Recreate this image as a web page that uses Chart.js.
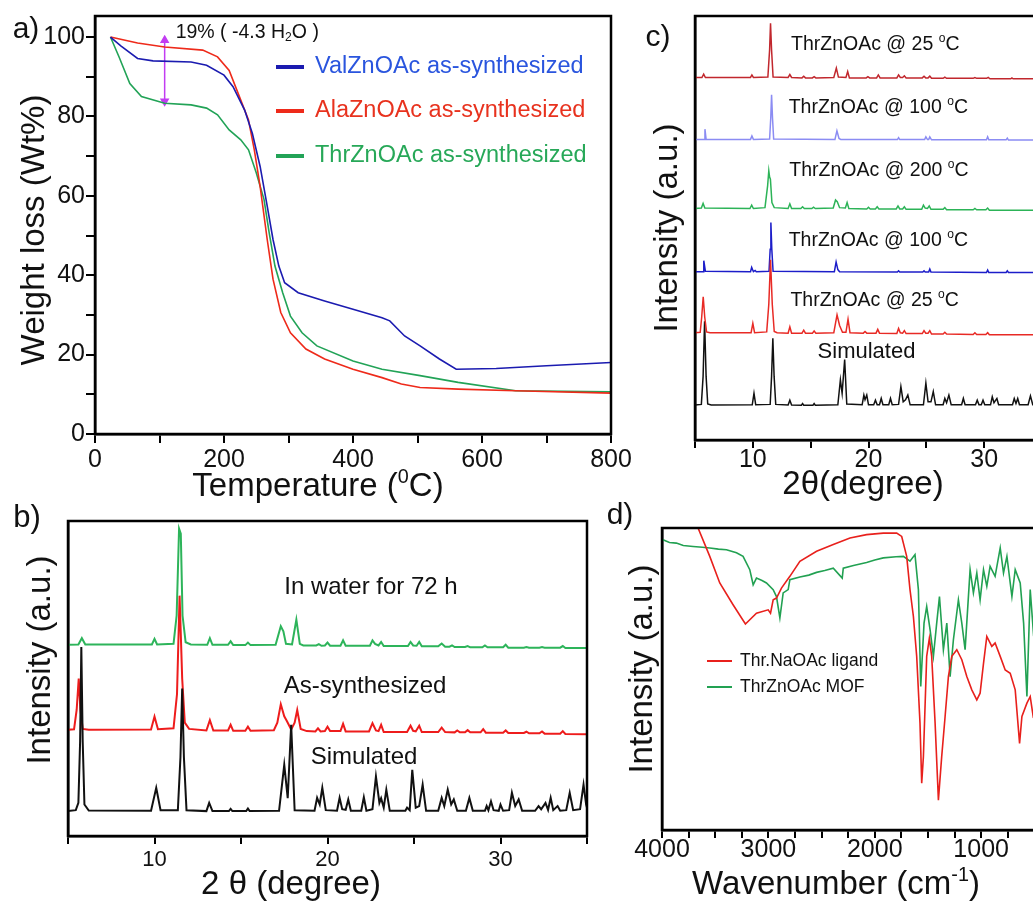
<!DOCTYPE html>
<html>
<head>
<meta charset="utf-8">
<script src="https://cdn.jsdelivr.net/npm/chart.js@4.4.1/dist/chart.umd.min.js"></script>
<style>
  html, body { margin: 0; padding: 0; width: 1033px; height: 902px; overflow: hidden; background: #fff; }
  body { position: relative; font-family: 'Liberation Sans', Arial, sans-serif; color: #111; }
  .panel { position: absolute; }
  .txt { position: absolute; transform: translate(-50%, -50%); white-space: nowrap; line-height: 1; }
  .rot { transform: translate(-50%, -50%) rotate(-90deg); }
  sup { font-size: 0.6em; vertical-align: 0.65em; line-height: 0; }
</style>
</head>
<body>
<div class="panel" style="left:0;top:0;width:639px;height:470px"><canvas id="chartA"></canvas></div>
<div class="panel" style="left:0;top:500px;width:600px;height:402px"><canvas id="chartB"></canvas></div>
<div class="panel" style="left:640px;top:0;width:420px;height:470px"><canvas id="chartC"></canvas></div>
<div class="panel" style="left:620px;top:500px;width:440px;height:402px"><canvas id="chartD"></canvas></div>

<!-- panel letters and axis titles -->
<div class="txt" style="left:26px;top:28px;font-size:30px">a)</div>
<div class="txt" style="left:27px;top:516px;font-size:31px">b)</div>
<div class="txt" style="left:658px;top:36px;font-size:30px">c)</div>
<div class="txt" style="left:620px;top:514px;font-size:30px">d)</div>

<div class="txt rot" style="left:32px;top:230px;font-size:33px">Weight loss (Wt%)</div>
<div class="txt" style="left:318px;top:484px;font-size:33px">Temperature (<sup>0</sup>C)</div>
<div class="txt rot" style="left:38px;top:660px;font-size:33px">Intensity (a.u.)</div>
<div class="txt" style="left:291px;top:882px;font-size:33px">2 θ (degree)</div>
<div class="txt rot" style="left:665px;top:228px;font-size:33px">Intensity (a.u.)</div>
<div class="txt" style="left:863px;top:482px;font-size:33px">2θ(degree)</div>
<div class="txt rot" style="left:640px;top:669px;font-size:33px">Intensity (a.u.)</div>
<div class="txt" style="left:836px;top:882px;font-size:33px">Wavenumber (cm<sup>-1</sup>)</div>

<script>
// ---- a) TGA, [temperature, weight %]
const tgaNames = ['ValZnOAc as-synthesized', 'AlaZnOAc as-synthesized', 'ThrZnOAc as-synthesized'];
const tgaVal = [[24,100],[40,97.8],[66,94.6],[90,94],[149,93.7],[173,92.9],[200,90.4],[214,87.5],[232,81.6],[244,75.7],[256,67.4],[267,57.4],[276,49],[285,42.3],[294,38.1],[315,35.6],[356,33.5],[400,31.4],[445,29.3],[457,28.5],[480,24.7],[504,22.2],[534,18.9],[560,16.3],[622,16.5],[700,17.2],[800,18]];
const tgaAla = [[24,100],[66,98.5],[108,97.5],[167,96.7],[190,95],[208,91.6],[226,84.1],[238,79.1],[247,71.6],[256,62.4],[267,49],[276,39],[288,30.6],[303,25.5],[327,21.4],[356,18.9],[400,16.3],[445,14.2],[475,12.6],[504,11.7],[563,11.3],[652,10.9],[800,10.3]];
const tgaThr = [[24,100],[37,95.1],[54,88.3],[72,85],[108,83.3],[149,82.9],[173,82.1],[190,80.4],[208,76.6],[226,74.1],[238,71.6],[250,65.8],[262,59.1],[270,50.7],[279,42.3],[291,35.6],[303,29.7],[321,25.5],[344,22.2],[400,18.4],[445,16.3],[504,14.7],[563,13],[652,10.9],[800,10.6]];
const waterLoss = [[108, 99.2], [108, 83.8]];
const tempTicks = [0, 200, 400, 600, 800];
const weightTicks = [0, 20, 40, 60, 80, 100];

// ---- b) PXRD, [2theta, intensity]
const pxrdNames = ['In water for 72 h', 'As-synthesized', 'Simulated'];
const pxrdWater = [[5,60.7],[5.6,60.8],[5.8,62.8],[6,60.8],[9.85,60.8],[10,62.6],[10.15,60.8],[11.1,61],[11.28,70],[11.42,97.6],[11.52,96],[11.62,70],[11.8,61.5],[12.1,60.8],[13.05,60.7],[13.2,62.8],[13.35,60.7],[14.25,60.7],[14.4,61.8],[14.55,60.6],[15.25,60.6],[15.4,61.4],[15.55,60.6],[17,60.7],[17.3,66.6],[17.45,65],[17.6,61],[17.95,60.8],[18.2,68.7],[18.4,61],[18.6,60.5],[19.35,60.5],[19.5,60.9],[19.65,60.4],[19.85,60.5],[20,61.4],[20.15,60.4],[20.75,60.4],[20.9,62.1],[21.05,60.4],[22.45,60.4],[22.6,62.1],[22.75,61],[22.95,60.5],[23.1,61.6],[23.25,60.3],[24.65,60.3],[24.8,61.6],[24.95,60.5],[25.15,60.4],[25.3,61.6],[25.45,60.2],[26.4,60.2],[26.6,61.1],[26.8,60.1],[27.05,60.1],[27.2,60.5],[27.35,60],[27.95,60],[28.1,60.3],[28.25,59.9],[28.95,59.9],[29.1,60.5],[29.25,59.9],[30.15,59.9],[30.3,60.7],[30.45,59.8],[31.35,59.8],[31.5,60],[31.65,59.8],[32.25,59.8],[32.4,60],[32.55,59.8],[33.45,59.8],[33.6,60.3],[33.75,59.7],[35,59.7]];
const pxrdAsSynth = [[5,33.7],[5.35,33.9],[5.5,40],[5.62,50],[5.72,40],[5.85,34],[6.2,33.7],[9.8,33.8],[10,37.9],[10.2,33.9],[11.1,34.2],[11.3,45],[11.45,76.3],[11.6,50],[11.75,36],[12,34],[13,33.5],[13.2,36.8],[13.4,33.5],[14.25,33.5],[14.4,35.3],[14.55,33.4],[15.25,33.4],[15.4,34.7],[15.55,33.4],[16.9,33.6],[17.1,36],[17.3,41.8],[17.5,38],[17.65,36.5],[17.9,33.8],[18.1,36],[18.25,40],[18.45,34],[18.8,33.3],[19.3,33.2],[19.45,34.2],[19.6,33.2],[19.85,33.3],[20,34.7],[20.15,33.3],[20.75,33.3],[20.9,35.6],[21.05,33.2],[22.4,33.2],[22.6,35.8],[22.8,33.5],[22.95,33.3],[23.1,35.3],[23.25,33],[24.6,33],[24.8,35],[24.95,33.4],[25.1,33.2],[25.3,35],[25.45,33],[26.4,33],[26.6,34.4],[26.8,33],[27.35,32.9],[27.5,33.5],[27.65,32.9],[27.95,32.9],[28.1,33.6],[28.25,32.9],[28.85,32.9],[29,33.9],[29.15,32.8],[30.15,32.8],[30.3,33.5],[30.45,32.7],[31.35,32.7],[31.5,33.1],[31.65,32.6],[32.25,32.6],[32.4,33.2],[32.55,32.5],[33.45,32.5],[33.6,33.3],[33.75,32.4],[35,32.3]];
const pxrdSim = [[5,7.9],[5.45,8.2],[5.6,10.5],[5.7,30],[5.77,60],[5.85,30],[5.95,10],[6.2,8.1],[9.8,8],[10.1,15.3],[10.35,8.2],[11.35,8.2],[11.5,25],[11.6,46.8],[11.7,25],[11.85,8.2],[13,7.9],[13.16,10.5],[13.35,7.9],[14.3,7.9],[14.4,8.6],[14.5,7.9],[15.3,7.9],[15.4,8.7],[15.5,7.9],[17.2,8],[17.5,22.6],[17.7,12],[17.9,35.3],[18.1,8.2],[19.25,8],[19.4,12.1],[19.55,10],[19.7,15.3],[19.9,8.2],[20.55,8],[20.7,12.1],[20.85,8.5],[21.05,8.3],[21.2,11.6],[21.35,8],[21.95,8],[22.1,12.3],[22.25,8],[22.6,8.5],[22.8,18.9],[23,10.5],[23.1,12],[23.25,9],[23.4,14.7],[23.6,8],[24.5,8],[24.6,9],[24.75,8.2],[24.9,21],[25.1,9],[25.3,9.5],[25.5,16.3],[25.7,8],[26.4,8],[26.6,12.1],[26.75,9.5],[26.95,14.7],[27.15,10],[27.3,11.6],[27.5,8],[28,8],[28.2,12.1],[28.4,8],[29.1,8],[29.2,9.5],[29.3,8.2],[29.45,11],[29.6,8.2],[29.9,8],[30,10],[30.15,8],[30.5,8.2],[30.66,13.7],[30.85,9.5],[31.05,11.6],[31.25,8],[32,8],[32.2,9.5],[32.35,8.5],[32.6,10.5],[32.75,8.3],[32.9,12.1],[33.05,8.2],[33.3,9.5],[33.45,8],[33.8,8.2],[34,13.7],[34.2,8.2],[34.6,8.5],[34.8,16.3],[34.95,10],[35,9]];
const thetaTicks = [10, 20, 30];

// ---- c) variable temperature PXRD, top trace first
const vtNames = ['ThrZnOAc @ 25 ^{o}C', 'ThrZnOAc @ 100 ^{o}C', 'ThrZnOAc @ 200 ^{o}C', 'ThrZnOAc @ 100 ^{o}C', 'ThrZnOAc @ 25 ^{o}C', 'Simulated'];
const vt25After = [[5,85.5],[5.6,85.5],[5.75,86.3],[5.9,85.5],[9.8,85.5],[9.92,86.1],[10.05,85.5],[11.3,85.6],[11.45,92],[11.53,98.3],[11.62,92],[11.75,85.6],[13.05,85.5],[13.2,86.2],[13.35,85.5],[14.25,85.4],[14.4,85.8],[14.55,85.4],[15.15,85.4],[15.3,85.7],[15.45,85.4],[17,85.5],[17.22,87.7],[17.4,85.6],[18.05,85.5],[18.2,86.9],[18.35,85.4],[19.8,85.4],[19.95,85.7],[20.1,85.4],[20.7,85.4],[20.85,86.1],[21,85.4],[22.45,85.4],[22.6,86.1],[22.75,85.5],[22.95,85.5],[23.1,85.9],[23.25,85.4],[24.65,85.4],[24.8,85.8],[24.95,85.4],[25.15,85.4],[25.3,85.8],[25.45,85.3],[26.45,85.3],[26.6,85.6],[26.75,85.3],[29.05,85.3],[29.2,85.5],[29.35,85.3],[30.2,85.3],[30.35,85.5],[30.5,85.2],[32.3,85.2],[32.4,85.4],[32.5,85.2],[35,85.2]];
const vt100Cool = [[5,70.9],[5.8,70.9],[5.86,73.3],[5.96,70.9],[9.8,70.9],[9.92,71.7],[10.05,70.9],[11.45,71],[11.55,76],[11.62,81.4],[11.7,76],[11.8,71],[17.1,70.9],[17.27,72.9],[17.45,71.1],[17.6,70.9],[22.5,70.85],[22.6,71.3],[22.7,70.85],[24.85,70.85],[24.96,71.5],[25.1,70.85],[25.2,70.85],[25.3,71.5],[25.45,70.8],[30.2,70.8],[30.3,71.5],[30.4,70.8],[31.9,70.8],[32,71.2],[32.1,70.75],[35,70.75]];
const vt200 = [[5,54.6],[5.55,54.7],[5.7,55.8],[5.85,54.7],[9.75,54.6],[9.9,55.4],[10.05,54.6],[11.05,54.8],[11.28,60],[11.38,63.5],[11.45,62],[11.52,61.5],[11.65,56],[11.85,54.8],[13.05,54.6],[13.2,55.7],[13.35,54.6],[14.15,54.6],[14.3,55],[14.45,54.6],[15.1,54.6],[15.25,54.9],[15.4,54.6],[16.95,54.7],[17.15,56.6],[17.3,56.2],[17.5,54.8],[18,54.7],[18.15,56],[18.3,54.6],[19.85,54.5],[20,54.9],[20.15,54.5],[20.6,54.5],[20.75,55],[20.9,54.5],[22.4,54.5],[22.55,55.2],[22.7,54.5],[22.95,54.5],[23.1,55],[23.25,54.4],[24.6,54.4],[24.75,55.4],[24.9,54.7],[25.1,54.6],[25.25,55.2],[25.4,54.4],[26.45,54.4],[26.6,54.8],[26.75,54.3],[29.05,54.3],[29.2,54.6],[29.35,54.3],[30.15,54.3],[30.3,54.7],[30.45,54.2],[35,54.2]];
const vt100Heat = [[5,39.7],[5.7,39.7],[5.76,42.3],[5.9,39.8],[9.8,39.7],[9.9,40.7],[10.05,39.7],[10.2,40],[10.3,39.7],[11.4,39.8],[11.5,45],[11.56,51.3],[11.64,45],[11.75,39.8],[17.05,39.7],[17.2,42],[17.35,40.2],[17.5,39.7],[22.5,39.6],[22.6,39.9],[22.7,39.6],[24.7,39.6],[24.8,39.9],[24.9,39.6],[25.2,39.6],[25.3,40.3],[25.4,39.6],[30.2,39.5],[30.3,40.1],[30.4,39.5],[31.9,39.5],[32,39.9],[32.1,39.5],[35,39.5]];
const vt25Start = [[5,25.3],[5.45,25.4],[5.58,29],[5.71,33.8],[5.84,29],[6,25.5],[6.3,25.3],[9.85,25.3],[10,27.5],[10.15,25.3],[11.2,25.5],[11.38,32],[11.53,42.5],[11.68,32],[11.85,25.6],[12.1,25.3],[13.05,25.2],[13.2,26.7],[13.35,25.2],[14.25,25.2],[14.4,25.9],[14.55,25.2],[15.15,25.2],[15.3,25.7],[15.45,25.2],[17,25.3],[17.28,29.5],[17.5,27],[17.75,25.4],[18.05,25.4],[18.23,28.5],[18.4,25.3],[19.55,25.2],[19.7,25.6],[19.85,25.2],[20.65,25.2],[20.8,26.1],[20.95,25.2],[22.45,25.1],[22.6,26.3],[22.75,25.3],[22.95,25.2],[23.1,25.8],[23.25,25.1],[24.65,25.1],[24.8,25.8],[24.95,25.2],[25.15,25.2],[25.3,25.8],[25.45,25],[26.45,25],[26.6,25.4],[26.75,25],[29.05,24.9],[29.2,25.3],[29.35,24.9],[30.15,24.9],[30.3,25.3],[30.45,24.8],[35,24.8]];
const vtSim = [[5,8.25],[5.55,8.4],[5.7,15],[5.83,28],[5.96,15],[6.1,8.5],[6.4,8.25],[9.95,8.3],[10.1,11],[10.25,8.3],[11.5,8.4],[11.62,15],[11.73,24],[11.84,15],[11.98,8.4],[13.05,8.25],[13.2,9.4],[13.35,8.25],[14.2,8.2],[14.3,8.6],[14.4,8.2],[15.2,8.2],[15.3,8.6],[15.4,8.2],[17.35,8.3],[17.57,14.2],[17.72,11],[17.94,19],[18.12,8.5],[19.45,8.3],[19.6,10.6],[19.7,9.5],[19.85,10.6],[20,8.3],[20.45,8.3],[20.6,9.4],[20.75,8.3],[20.95,8.3],[21.1,9.8],[21.25,8.3],[21.75,8.3],[21.9,9.8],[22.05,8.3],[22.6,8.4],[22.8,12.6],[23,9],[23.2,9.5],[23.4,10.6],[23.6,8.3],[24.75,8.3],[24.96,13.4],[25.15,9],[25.4,9],[25.6,11.4],[25.8,8.3],[26.45,8.3],[26.6,9.8],[26.75,8.8],[26.95,10.6],[27.15,8.3],[28.05,8.3],[28.2,9.8],[28.35,8.3],[29.25,8.3],[29.4,9.4],[29.55,8.3],[29.75,8.3],[29.9,9.4],[30.05,8.3],[30.55,8.3],[30.7,10.2],[30.85,8.8],[31.1,9.8],[31.25,8.3],[32.45,8.3],[32.6,9.8],[32.75,8.6],[32.9,9.8],[33.05,8.3],[33.8,8.3],[34,10.4],[34.2,8.3],[34.6,8.3],[34.8,10.5],[35,8.4]];

// ---- d) FTIR, [wavenumber, transmittance]
const irNames = ['Thr.NaOAc ligand', 'ThrZnOAc MOF'];
const irLigand = [[3720,108],[3661,100],[3551,90.6],[3457,81.8],[3332,74.6],[3216,68.2],[3112,71.8],[3002,72.9],[2980,71.8],[2955,76.2],[2924,76.8],[2877,80.1],[2798,84],[2704,89],[2547,92.3],[2390,94.5],[2233,96.7],[2077,97.8],[1920,98.3],[1794,98.3],[1747,97.2],[1700,90.6],[1669,79.6],[1637,70.7],[1606,57.5],[1575,35.4],[1559,15.5],[1543,24.3],[1512,57.5],[1487,63.5],[1465,57.5],[1433,35.4],[1402,9.9],[1371,24.3],[1339,37.6],[1308,50.8],[1276,57.5],[1229,59.7],[1182,56.4],[1135,50.8],[1088,46.4],[1041,43.1],[1010,45.3],[978,55.2],[947,64.1],[900,60.8],[869,61.9],[821,57.5],[774,53],[727,51.9],[680,46.4],[639,28.7],[617,37.6],[570,42],[539,44.2],[511,37.6],[450,40]];
const irMof = [[4000,96],[3991,96.1],[3930,95.2],[3865,95],[3800,94.2],[3708,93.9],[3620,93.6],[3551,93.4],[3470,93],[3394,92.8],[3300,91.8],[3238,90.6],[3175,86.2],[3143,81.2],[3112,83.4],[3060,82.6],[3018,81.8],[2955,79.6],[2924,77.3],[2892,70.2],[2861,78.5],[2814,79.6],[2798,82.9],[2704,83.8],[2620,84.4],[2547,85.3],[2470,85.9],[2390,86.7],[2306,83.4],[2296,86.7],[2200,87.6],[2077,88.6],[2000,89.4],[1920,90.1],[1800,90.5],[1731,90.6],[1669,89],[1622,91.2],[1590,79.6],[1568,47.5],[1537,68.5],[1512,74],[1480,66.3],[1449,57.5],[1418,68.5],[1392,77.3],[1355,59.7],[1323,68.5],[1292,50.8],[1261,63],[1214,76.2],[1182,68.5],[1151,59.7],[1104,86.2],[1073,78.5],[1041,85.1],[1010,76.2],[978,86.2],[947,80.7],[916,87.3],[869,84],[821,93.4],[790,85.1],[758,90.6],[711,77.3],[680,86.2],[633,81.8],[601,68.5],[570,44.2],[539,79.6],[511,66.3],[470,75]];
const waveTicks = [1000, 2000, 3000, 4000];

const FONT = "'Liberation Sans', Arial, sans-serif";
Chart.defaults.font.family = FONT;
Chart.defaults.color = '#111';

// text with ^{sup} and _{sub} parts
function drawRich(ctx, text, x, y, size, color) {
  const parts = text.split(/([\^_]\{[^}]*\})/).filter(Boolean);
  ctx.save();
  ctx.fillStyle = color;
  ctx.textBaseline = 'middle';
  ctx.textAlign = 'left';
  let cx = x;
  parts.forEach(p => {
    let s = size, dy = 0, t = p;
    if (p.startsWith('^{')) { t = p.slice(2, -1); s = size * 0.62; dy = -size * 0.32; }
    else if (p.startsWith('_{')) { t = p.slice(2, -1); s = size * 0.62; dy = size * 0.25; }
    ctx.font = s + 'px ' + FONT;
    ctx.fillText(t, cx, y + dy);
    cx += ctx.measureText(t).width;
  });
  ctx.restore();
}

// labels placed in data coordinates
function notes(items) {
  return {
    id: 'notes',
    afterDatasetsDraw(chart) {
      const { ctx, scales } = chart;
      items.forEach(it => {
        drawRich(ctx, it.text, scales.x.getPixelForValue(it.x), scales.y.getPixelForValue(it.y), it.size, it.color || '#111');
      });
    }
  };
}

// legend rows: short line + text, offsets from the chart area corner
function lineKey(o) {
  return {
    id: 'lineKey',
    afterDraw(chart) {
      const { ctx, chartArea: a } = chart;
      o.rows.forEach((ry, i) => {
        const ds = chart.data.datasets[i];
        const y = a.top + ry;
        ctx.save();
        ctx.strokeStyle = ds.borderColor;
        ctx.lineWidth = o.lw;
        ctx.beginPath();
        ctx.moveTo(a.left + o.x0, y);
        ctx.lineTo(a.left + o.x1, y);
        ctx.stroke();
        ctx.restore();
        drawRich(ctx, ds.label, a.left + o.tx, y, o.size, o.textColors ? o.textColors[i] : '#111');
      });
    }
  };
}

const frame = {
  id: 'frame',
  afterDraw(chart) {
    const { ctx, chartArea: a } = chart;
    ctx.save();
    ctx.strokeStyle = '#000';
    ctx.lineWidth = 2.5;
    ctx.strokeRect(a.left, a.top, a.right - a.left, a.bottom - a.top);
    ctx.restore();
  }
};

function line(label, data, color, width) {
  return { label: label, data: data, borderColor: color, backgroundColor: color, borderWidth: width, pointRadius: 0, tension: 0 };
}

function hiddenY(width) {
  return {
    min: 0, max: 100,
    ticks: { display: false },
    grid: { display: false },
    border: { color: '#000', width: 2.5 },
    afterFit: s => { s.width = width; }
  };
}

function xAxis(o) {
  return {
    type: 'linear', min: o.min, max: o.max, reverse: !!o.reverse,
    afterBuildTicks: s => { s.ticks = s.ticks.filter(t => t.value % o.step === 0); },
    ticks: {
      stepSize: o.step, includeBounds: false, padding: o.pad, font: { size: o.size, lineHeight: 1 }, color: '#111',
      maxRotation: 0, autoSkip: false,
      callback: v => o.labels.includes(v) ? String(v) : ''
    },
    grid: { drawOnChartArea: false, tickLength: o.tick, color: '#000', lineWidth: 2 },
    border: { color: '#000', width: 2.5 },
    afterFit: s => { s.height = o.height; }
  };
}

function makeChart(id, datasets, scales, padding, plugins) {
  return new Chart(document.getElementById(id), {
    type: 'line',
    data: { datasets: datasets },
    options: {
      responsive: true, maintainAspectRatio: false, animation: false, events: [],
      layout: { padding: padding },
      plugins: { legend: { display: false }, tooltip: { enabled: false } },
      scales: scales
    },
    plugins: plugins
  });
}

// a) TGA
const arrow = line('', waterLoss, '#c23cf2', 1.5);
arrow.pointRadius = 4;
arrow.pointStyle = 'triangle';
arrow.pointRotation = [0, 180];
makeChart('chartA', [
  line(tgaNames[0], tgaVal, '#1b1bb0', 1.6),
  line(tgaNames[1], tgaAla, '#ee2a1a', 1.6),
  line(tgaNames[2], tgaThr, '#22a357', 1.6),
  arrow
], {
  x: xAxis({ min: 0, max: 800, step: 100, labels: tempTicks, size: 25, pad: 5, tick: 9, height: 36 }),
  y: {
    min: 0, max: 105.3,
    afterBuildTicks: s => { s.ticks = s.ticks.filter(t => t.value % 10 === 0); },
    ticks: { stepSize: 10, includeBounds: false, padding: 1, font: { size: 25, lineHeight: 1 }, color: '#111',
      autoSkip: false, callback: v => weightTicks.includes(v) ? String(v) : '' },
    grid: { drawOnChartArea: false, tickLength: 9, color: '#000', lineWidth: 2 },
    border: { color: '#000', width: 2.5 },
    afterFit: s => { s.width = 95; }
  }
}, { top: 16, right: 28, left: 0, bottom: 0 }, [
  frame,
  notes([{ text: '19% ( -4.3 H_{2}O )', x: 125, y: 101, size: 19.5 }]),
  lineKey({ rows: [51, 95, 140], x0: 181, x1: 209, tx: 220, lw: 4, size: 23.5,
    textColors: ['#2a55de', '#e8321e', '#27a858'] })
]);

// b) PXRD
makeChart('chartB', [
  line(pxrdNames[2], pxrdSim, '#111111', 2),
  line(pxrdNames[1], pxrdAsSynth, '#ee1c1c', 2),
  line(pxrdNames[0], pxrdWater, '#2db45a', 2)
], {
  x: xAxis({ min: 5, max: 35, step: 5, labels: thetaTicks, size: 22, pad: 5, tick: 8, height: 66 }),
  y: hiddenY(68)
}, { top: 21, right: 13, left: 0, bottom: 0 }, [
  frame,
  notes([
    { text: pxrdNames[0], x: 17.5, y: 79, size: 24 },
    { text: pxrdNames[1], x: 17.47, y: 47.4, size: 24 },
    { text: pxrdNames[2], x: 19.03, y: 25, size: 24 }
  ])
]);

// c) variable temperature PXRD
makeChart('chartC', [
  line(vtNames[4], vt25Start, '#e82a25', 1.5),
  line(vtNames[5], vtSim, '#111111', 1.5),
  line(vtNames[3], vt100Heat, '#1c1dc9', 1.5),
  line(vtNames[2], vt200, '#2cb357', 1.5),
  line(vtNames[1], vt100Cool, '#8b8cf3', 1.5),
  line(vtNames[0], vt25After, '#c1272d', 1.5)
], {
  x: xAxis({ min: 5, max: 35, step: 5, labels: thetaTicks, size: 25, pad: 0, tick: 8, height: 30 }),
  y: hiddenY(55)
}, { top: 16, right: 18, left: 0, bottom: 0 }, [
  frame,
  notes([
    { text: vtNames[0], x: 13.3, y: 93.2, size: 19.5 },
    { text: vtNames[1], x: 13.1, y: 78.4, size: 19.5 },
    { text: vtNames[2], x: 13.15, y: 63.5, size: 19.5 },
    { text: vtNames[3], x: 13.1, y: 47, size: 19.5 },
    { text: vtNames[4], x: 13.25, y: 32.8, size: 19.5 },
    { text: vtNames[5], x: 15.6, y: 20.8, size: 22 }
  ])
]);

// d) FTIR
makeChart('chartD', [
  line(irNames[0], irLigand, '#e8201c', 1.6),
  line(irNames[1], irMof, '#22a152', 1.6)
], {
  x: xAxis({ min: 400, max: 4000, step: 250, reverse: true, labels: waveTicks, size: 25, pad: 0, tick: 8, height: 72 }),
  y: hiddenY(42)
}, { top: 28, right: 15, left: 0, bottom: 0 }, [
  frame,
  lineKey({ rows: [133, 159], x0: 45, x1: 70, tx: 78, lw: 2, size: 17.5 })
]);
</script>
</body>
</html>
